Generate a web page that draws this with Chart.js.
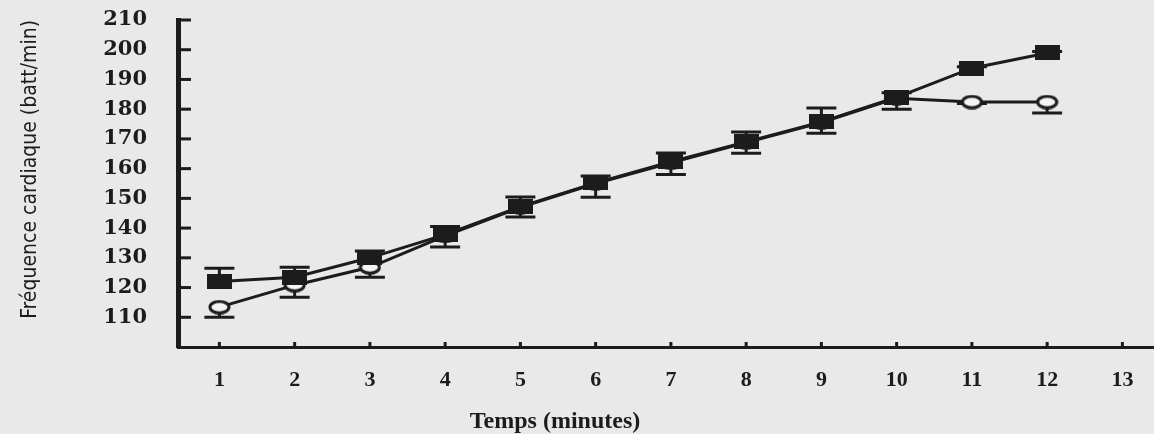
<!DOCTYPE html>
<html>
<head>
<meta charset="utf-8">
<script src="https://cdn.jsdelivr.net/npm/chart.js@4/dist/chart.umd.min.js"></script>
<style>
    html, body { margin: 0; padding: 0; background: #e9e9e9; }
    #wrap { width: 1154px; height: 434px; }
</style>
</head>
<body>
<div id="wrap"><canvas id="hr-chart"></canvas></div>
<script>
const minutes = [1, 2, 3, 4, 5, 6, 7, 8, 9, 10, 11, 12];
const xTicks = [1, 2, 3, 4, 5, 6, 7, 8, 9, 10, 11, 12, 13];
const yTicks = [110, 120, 130, 140, 150, 160, 170, 180, 190, 200, 210];
const xTitle = 'Temps (minutes)';
const yTitle = 'Fréquence cardiaque (batt/min)';

// carres pleins : valeur et erreur (vers le haut)
const filledHr = [122, 123.5, 130, 137.8, 147.2, 155.2, 162.3, 169, 175.7, 184, 193.8, 198.9];
const filledErr = [4.5, 3.3, 2.3, 2.7, 3.3, 2.3, 3, 3.3, 4.7, 1.5, 0.5, 0.5];

// ronds vides : valeur et erreur (vers le bas)
const openHr = [113.4, 120.8, 126.8, 137.4, 147, 155, 162, 168.8, 175.5, 183.7, 182.4, 182.4];
const openErr = [3.4, 4.1, 3.3, 3.8, 3.3, 4.6, 4, 3.6, 3.6, 3.7, 0.5, 3.7];

const ink = '#1c1c1c';
const paper = '#e9e9e9';

function makeMarker(w, h, draw) {
    const c = document.createElement('canvas');
    c.width = w;
    c.height = h;
    draw(c.getContext('2d'));
    return c;
}

const squareMarker = makeMarker(25, 15, ctx => {
    ctx.fillStyle = ink;
    ctx.fillRect(0, 0, 25, 15);
});

const circleMarker = makeMarker(23, 15, ctx => {
    ctx.beginPath();
    ctx.ellipse(11.5, 7.5, 9.5, 5.8, 0, 0, Math.PI * 2);
    ctx.fillStyle = '#f4f4f4';
    ctx.fill();
    ctx.lineWidth = 3;
    ctx.strokeStyle = ink;
    ctx.stroke();
});

const paperBackground = {
    id: 'paperBackground',
    beforeDraw(chart) {
        const ctx = chart.ctx;
        ctx.save();
        ctx.fillStyle = paper;
        ctx.fillRect(0, 0, chart.width, chart.height);
        ctx.restore();
    }
};

// barres d'erreur unilaterales
const errorBars = {
    id: 'errorBars',
    beforeDatasetsDraw(chart) {
        const ctx = chart.ctx;
        const x = chart.scales.x;
        const y = chart.scales.y;
        ctx.save();
        ctx.strokeStyle = ink;
        ctx.lineWidth = 3;
        const draw = (vals, errs, dir) => {
            vals.forEach((v, i) => {
                const px = x.getPixelForValue(minutes[i]);
                const y0 = y.getPixelForValue(v);
                const y1 = y.getPixelForValue(v + dir * errs[i]);
                ctx.beginPath();
                ctx.moveTo(px, y0);
                ctx.lineTo(px, y1);
                ctx.moveTo(px - 15, y1);
                ctx.lineTo(px + 15, y1);
                ctx.stroke();
            });
        };
        draw(filledHr, filledErr, 1);
        draw(openHr, openErr, -1);
        ctx.restore();
    }
};

// graduations tournees vers l'interieur + titre de l'axe x
const innerTicks = {
    id: 'innerTicks',
    afterDraw(chart) {
        const ctx = chart.ctx;
        const x = chart.scales.x;
        const y = chart.scales.y;
        const area = chart.chartArea;
        ctx.save();
        ctx.strokeStyle = ink;
        ctx.lineWidth = 3;
        yTicks.forEach(v => {
            const py = y.getPixelForValue(v);
            ctx.beginPath();
            ctx.moveTo(area.left, py);
            ctx.lineTo(area.left + 13, py);
            ctx.stroke();
        });
        xTicks.forEach(v => {
            const px = x.getPixelForValue(v);
            ctx.beginPath();
            ctx.moveTo(px, area.bottom);
            ctx.lineTo(px, area.bottom - 5);
            ctx.stroke();
        });
        ctx.fillStyle = ink;
        ctx.font = "bold 24px 'Liberation Serif', serif";
        ctx.textAlign = 'center';
        ctx.textBaseline = 'middle';
        ctx.fillText(xTitle, area.left + 377, chart.height - 12);
        ctx.restore();
    }
};

new Chart(document.getElementById('hr-chart'), {
    type: 'line',
    data: {
        datasets: [{
            label: 'carres',
            data: minutes.map((m, i) => ({ x: m, y: filledHr[i] })),
            borderColor: ink,
            borderWidth: 3,
            pointStyle: squareMarker,
            pointRadius: 8,
            tension: 0
        }, {
            label: 'ronds',
            data: minutes.map((m, i) => ({ x: m, y: openHr[i] })),
            borderColor: ink,
            borderWidth: 3,
            pointStyle: circleMarker,
            pointRadius: 8,
            tension: 0
        }]
    },
    options: {
        responsive: true,
        maintainAspectRatio: false,
        animation: false,
        layout: {
            autoPadding: false,
            padding: { top: 20, right: 0, left: 0, bottom: 0 }
        },
        plugins: {
            legend: { display: false },
            tooltip: { enabled: false }
        },
        scales: {
            x: {
                type: 'linear',
                min: 0.45,
                max: 13.42,
                afterFit: scale => {
                    scale.height = 87;
                    scale.paddingLeft = 0;
                    scale.paddingRight = 0;
                },
                grid: { display: false, drawTicks: false },
                border: { display: true, color: ink, width: 3 },
                ticks: {
                    stepSize: 1,
                    includeBounds: false,
                    autoSkip: false,
                    maxRotation: 0,
                    padding: 20,
                    color: ink,
                    font: { family: "'Liberation Serif', serif", size: 22, weight: 'bold' },
                    callback: v => xTicks.includes(v) ? v : null
                }
            },
            y: {
                min: 100,
                max: 210,
                afterFit: scale => {
                    scale.width = 178;
                    scale.paddingTop = 0;
                    scale.paddingBottom = 0;
                },
                grid: { display: false, drawTicks: false },
                border: { display: true, color: ink, width: 5 },
                ticks: {
                    stepSize: 10,
                    autoSkip: false,
                    padding: 31,
                    color: ink,
                    font: { family: "'DejaVu Serif', serif", size: 21, weight: 'bold' },
                    callback: v => yTicks.includes(v) ? v : null
                },
                title: {
                    display: true,
                    align: 'end',
                    text: yTitle,
                    color: ink,
                    font: { family: "'DejaVu Sans Condensed', sans-serif", size: 21 },
                    padding: { top: 18, bottom: 0 }
                }
            }
        }
    },
    plugins: [paperBackground, errorBars, innerTicks]
});
</script>
</body>
</html>
